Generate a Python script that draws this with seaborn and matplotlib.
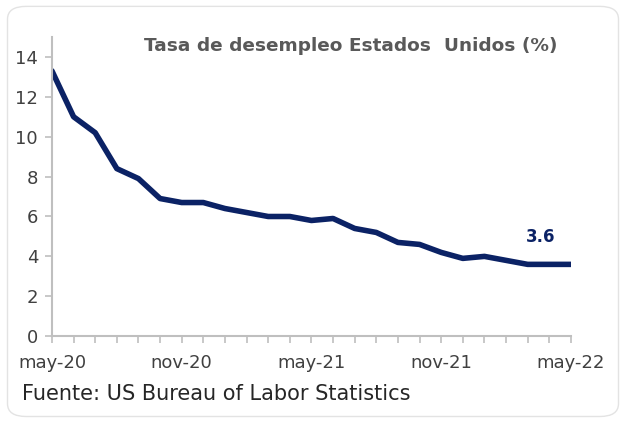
import pandas as pd
import seaborn as sns
import matplotlib.pyplot as plt
from matplotlib.patches import FancyBboxPatch

months = ['may-20', 'jun-20', 'jul-20', 'ago-20', 'sep-20', 'oct-20', 'nov-20', 'dic-20',
          'ene-21', 'feb-21', 'mar-21', 'abr-21', 'may-21', 'jun-21', 'jul-21', 'ago-21',
          'sep-21', 'oct-21', 'nov-21', 'dic-21', 'ene-22', 'feb-22', 'mar-22', 'abr-22', 'may-22']
rate = [13.3, 11.0, 10.2, 8.4, 7.9, 6.9, 6.7, 6.7,
        6.4, 6.2, 6.0, 6.0, 5.8, 5.9, 5.4, 5.2,
        4.7, 4.6, 4.2, 3.9, 4.0, 3.8, 3.6, 3.6, 3.6]
tick_labels = ['may-20', 'nov-20', 'may-21', 'nov-21', 'may-22']

df = pd.DataFrame({'idx': range(len(months)), 'mes': months, 'tasa': rate})

sns.set_style('white')
plt.rcParams['font.family'] = ['DejaVu Sans']

fig = plt.figure(figsize=(6.26, 4.25), dpi=100)
# marco redondeado del recuadro
box = FancyBboxPatch((0.012, 0.02), 0.976, 0.965, boxstyle='round,pad=0,rounding_size=0.03',
                     transform=fig.transFigure, fc='white', ec='#e3e3e3', lw=1.0, zorder=-5)
fig.patches.append(box)
ax = fig.add_axes([0.083, 0.209, 0.829, 0.704])
ax.set_zorder(3)
ax.set_facecolor('none')

sns.lineplot(data=df, x='idx', y='tasa', color='#0b2265', linewidth=4, ax=ax)

ax.set_xlim(0, len(months) - 1)
ax.set_ylim(0, 15)
ax.set_yticks(range(0, 15, 2))
ax.set_xticks(range(len(months)), minor=True)
ax.set_xticks([months.index(t) for t in tick_labels])
ax.set_xticklabels(tick_labels)
ax.tick_params(axis='x', which='both', bottom=True, direction='out', length=5, color='#bfbfbf',
               width=1.2, labelsize=13, labelcolor='#404040', pad=8)
ax.tick_params(axis='y', left=True, direction='out', length=5, color='#bfbfbf', width=1.2,
               labelsize=13, labelcolor='#404040', pad=5)
for s in ['top', 'right']:
    ax.spines[s].set_visible(False)
for s in ['left', 'bottom']:
    ax.spines[s].set_color('#bfbfbf')
    ax.spines[s].set_linewidth(1.5)
ax.set_xlabel('')
ax.set_ylabel('')

ax.text(0.576, 0.97, 'Tasa de desempleo Estados  Unidos (%)', transform=ax.transAxes,
        ha='center', va='center', fontsize=13.3, fontweight='bold', color='#595959')
ax.annotate(f'{rate[-1]:.1f}', xy=(len(months) - 1, rate[-1]), xytext=(-22, 20),
            textcoords='offset points', ha='center', va='center',
            fontsize=12, fontweight='bold', color='#0b2265')

fig.text(0.035, 0.073, 'Fuente: US Bureau of Labor Statistics', fontsize=15, color='#262626',
         ha='left', va='center')

plt.savefig('out.png', dpi=100)
